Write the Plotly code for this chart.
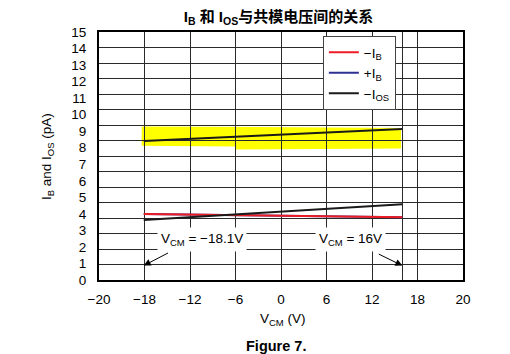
import plotly.graph_objects as go

# ---- data ----
vcm = [-18.1, 16]                      # common-mode voltage endpoints (V)
ib_minus = [3.99, 3.79]                # -I_B (pA)
ib_plus = [3.99, 3.79]                 # +I_B (pA) (hidden under -I_B)
ios_upper = [8.41, 9.13]               # highlighted black line (pA)
ios_lower = [3.63, 4.58]               # lower black line (pA)

hl_x = [-18.37, -3.0, 15.83, 15.83, -6.0, -6.0, -18.37]   # yellow highlight outline
hl_y = [9.28, 9.26, 9.20, 7.95, 7.90, 8.08, 8.12]

x_tickvals = [-24, -18, -12, -6, 0, 6, 12, 18, 24]
x_ticktext = ["\u221220", "\u221218", "\u221212", "\u22126", "0", "6", "12", "18", "20"]
y_tickvals = list(range(0, 16))
y_ticktext = [str(v) for v in y_tickvals]

FONT = "Liberation Sans, Arial, Helvetica, Noto Sans CJK SC, sans-serif"
GRID = "#2a2a2a"

fig = go.Figure()

fig.add_trace(go.Scatter(x=vcm, y=ib_plus, mode="lines", name="+I<sub>B</sub>",
                         line=dict(color="#2e3192", width=2), legendrank=2))
fig.add_trace(go.Scatter(x=vcm, y=ib_minus, mode="lines", name="\u2212I<sub>B</sub>",
                         line=dict(color="#ed1c24", width=2), legendrank=1))
fig.add_trace(go.Scatter(x=vcm, y=ios_lower, mode="lines", showlegend=False,
                         line=dict(color="#1a1a1a", width=2)))
fig.add_trace(go.Scatter(x=vcm, y=ios_upper, mode="lines", name="\u2212I<sub>OS</sub>",
                         line=dict(color="#1a1a1a", width=2), legendrank=3))

path = "M " + " L ".join(f"{x},{y}" for x, y in zip(hl_x, hl_y)) + " Z"
fig.add_shape(type="path", path=path, xref="x", yref="y", layer="below",
              fillcolor="#ffff00", line=dict(width=0))

# annotations: labels
fig.add_annotation(x=-10.48, y=2.45, xref="x", yref="y", showarrow=False,
                   xanchor="center", yanchor="middle",
                   text="V<sub>CM</sub> = \u221218.1V", bgcolor="white", borderpad=3,
                   font=dict(family=FONT, size=13.5, color="black"))
fig.add_annotation(x=9.1, y=2.45, xref="x", yref="y", showarrow=False,
                   xanchor="center", yanchor="middle",
                   text="V<sub>CM</sub> = 16V", bgcolor="white", borderpad=3,
                   font=dict(family=FONT, size=13.5, color="black"))
# arrows
fig.add_annotation(x=vcm[0], y=0.87, ax=-14.7, ay=1.68, xref="x", yref="y",
                   axref="x", ayref="y", text="", showarrow=True,
                   arrowhead=2, arrowsize=1.4, arrowwidth=1, arrowcolor="black")
fig.add_annotation(x=vcm[1], y=0.87, ax=12.7, ay=1.61, xref="x", yref="y",
                   axref="x", ayref="y", text="", showarrow=True,
                   arrowhead=2, arrowsize=1.4, arrowwidth=1, arrowcolor="black")

# axis titles and caption
fig.add_annotation(x=0.503, y=-0.161, xref="paper", yref="paper", showarrow=False,
                   xanchor="center", yanchor="middle",
                   text="V<sub>CM</sub> (V)", font=dict(family=FONT, size=13.5, color="black"))
fig.add_annotation(x=-0.140, y=0.496, xref="paper", yref="paper", showarrow=False,
                   xanchor="center", yanchor="middle",
                   textangle=-90, text="I<sub>B</sub> and I<sub>OS</sub> (pA)",
                   font=dict(family=FONT, size=13.5, color="black"))
fig.add_annotation(x=0.486, y=-0.266, xref="paper", yref="paper", showarrow=False,
                   xanchor="center", yanchor="middle",
                   text="<b>Figure 7.</b>", font=dict(family=FONT, size=14.5, color="black"))

fig.update_layout(
    width=510, height=354,
    margin=dict(l=99, r=47, t=32, b=74),
    paper_bgcolor="white", plot_bgcolor="white",
    title=dict(text="<b>I<sub>B</sub> 和 I<sub>OS</sub>与共模电压间的关系</b>",
               x=0.546, xanchor="center", y=0.953, yanchor="middle", yref="container",
               font=dict(family="Liberation Sans, Arial, Noto Sans CJK SC, sans-serif",
                         size=15, color="black")),
    font=dict(family=FONT, size=13, color="black"),
    legend=dict(x=0.615, y=0.984, xanchor="left", yanchor="top",
                bgcolor="white", bordercolor="#444444", borderwidth=1,
                font=dict(family=FONT, size=13.5, color="black"),
                tracegroupgap=3),
    showlegend=True,
)

fig.update_xaxes(range=[-24, 24], tickmode="array", tickvals=x_tickvals, ticktext=x_ticktext,
                 showgrid=True, gridcolor=GRID, gridwidth=1.3, zeroline=False,
                 showline=True, linecolor="black", linewidth=2, mirror=True,
                 ticks="", ticklabelstandoff=6, tickfont=dict(size=13.5),
                 minor=dict(tickmode="array", tickvals=[16], showgrid=True,
                            gridcolor=GRID, gridwidth=1.3, ticks=""))
fig.update_yaxes(range=[0, 15], tickmode="array", tickvals=y_tickvals, ticktext=y_ticktext,
                 showgrid=False, zeroline=False,
                 showline=True, linecolor="black", linewidth=2, mirror=True,
                 ticks="", ticklabelstandoff=8, tickfont=dict(size=13.5),
                 minor=dict(tick0=0, dtick=15 / 16, showgrid=True,
                            gridcolor=GRID, gridwidth=1.3, ticks=""))

fig.write_html("out.html")
